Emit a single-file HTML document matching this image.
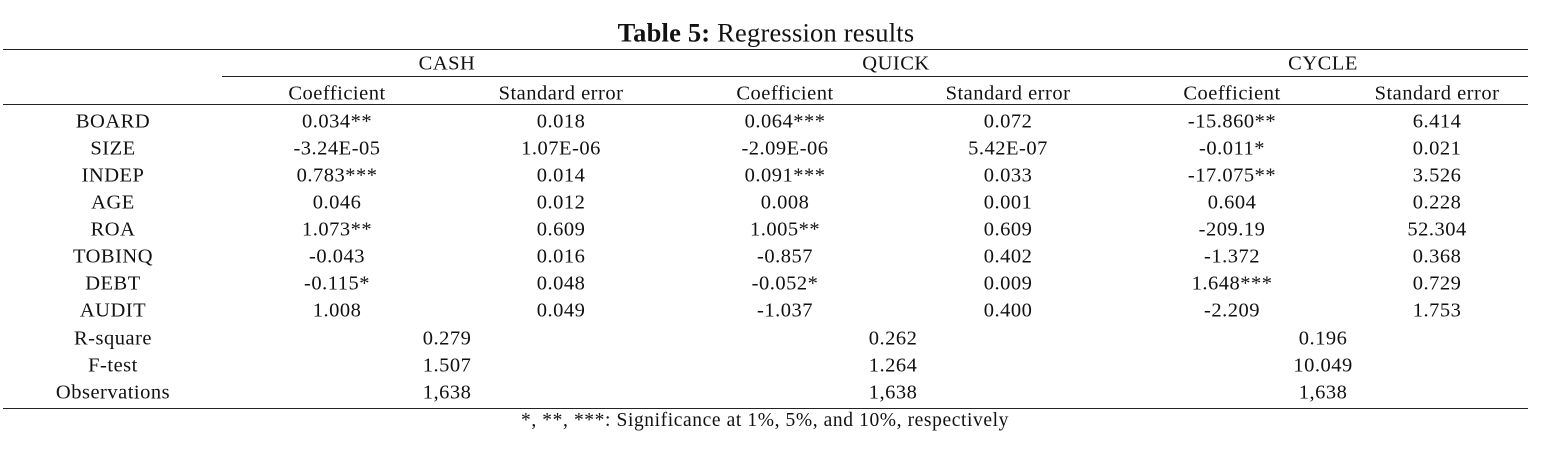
<!DOCTYPE html>
<html><head><meta charset="utf-8"><style>
body{margin:0;width:1543px;height:450px;background:#fff;position:relative;overflow:hidden;font-family:"Liberation Serif",serif;color:#111}
.t{position:absolute;transform:translate(-50%,-50%);white-space:nowrap;font-size:20.5px;letter-spacing:0.5px}
.l{position:absolute;height:1.3px;background:#222}
</style></head><body>
<div class="t" style="left:766px;top:33px;font-size:26.5px;letter-spacing:0.2px"><b>Table 5:</b> Regression results</div>
<div class="l" style="left:3px;width:1525px;top:49px"></div>
<div class="l" style="left:222px;width:1306px;top:76px"></div>
<div class="l" style="left:3px;width:1525px;top:104px"></div>
<div class="l" style="left:3px;width:1525px;top:408px"></div>
<div id="tbl"></div>
<div class="t" style="left:765px;top:421px;font-size:19.5px;letter-spacing:0.6px">*, **, ***: Significance at 1%, 5%, and 10%, respectively</div>
<script>
const groups=["CASH","QUICK","CYCLE"];
const rowLabels=["BOARD","SIZE","INDEP","AGE","ROA","TOBINQ","DEBT","AUDIT"];
const cashCoef=["0.034**","-3.24E-05","0.783***","0.046","1.073**","-0.043","-0.115*","1.008"];
const cashSE=["0.018","1.07E-06","0.014","0.012","0.609","0.016","0.048","0.049"];
const quickCoef=["0.064***","-2.09E-06","0.091***","0.008","1.005**","-0.857","-0.052*","-1.037"];
const quickSE=["0.072","5.42E-07","0.033","0.001","0.609","0.402","0.009","0.400"];
const cycleCoef=["-15.860**","-0.011*","-17.075**","0.604","-209.19","-1.372","1.648***","-2.209"];
const cycleSE=["6.414","0.021","3.526","0.228","52.304","0.368","0.729","1.753"];
const statLabels=["R-square","F-test","Observations"];
const cashStats=["0.279","1.507","1,638"];
const quickStats=["0.262","1.264","1,638"];
const cycleStats=["0.196","10.049","1,638"];
const tbl=document.getElementById('tbl');
function add(txt,x,y,name){
  const d=document.createElement('div');d.className='t';
  d.style.left=x+'px';d.style.top=y+'px';d.textContent=txt;
  
  
  tbl.appendChild(d);
}
const groupX=[447,896,1323];
const coefX=[337,785,1232];
const seX=[561,1008,1437];
groups.forEach((g,i)=>{
  add(g,groupX[i],64,'group-header-'+g.toLowerCase());
  add('Coefficient',coefX[i],94,'coefficient-header');
  add('Standard error',seX[i],94,'standard-error-header');
});
const coefs=[cashCoef,quickCoef,cycleCoef],ses=[cashSE,quickSE,cycleSE],stats=[cashStats,quickStats,cycleStats];
rowLabels.forEach((r,j)=>{
  const y=122+j*27;
  add(r,113,y,'row-label');
  for(let i=0;i<3;i++){add(coefs[i][j],coefX[i],y,'coefficient-cell');add(ses[i][j],seX[i],y,'standard-error-cell');}
});
statLabels.forEach((s,j)=>{
  const y=339+j*27;
  add(s,113,y,'stat-label');
  for(let i=0;i<3;i++)add(stats[i][j],[447,893,1323][i],y,'stat-value');
});
</script>
</body></html>
